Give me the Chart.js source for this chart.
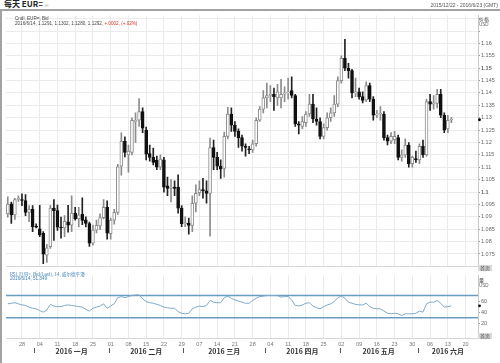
<!DOCTYPE html>
<html>
<head>
<meta charset="utf-8">
<script src="https://cdn.jsdelivr.net/npm/chart.js@4.4.1/dist/chart.umd.min.js"></script>
<style>
  body { margin: 0; background: #fff; }
  #wrap { position: relative; width: 500px; height: 363px; overflow: hidden; font-family: "Liberation Sans", Arial, sans-serif; }
  #wrap canvas { position: absolute; left: 0; }
  .txt { position: absolute; white-space: nowrap; line-height: 1; }
  .cjk { font-family: "Noto Sans CJK SC", "Liberation Sans", sans-serif; }
  .box { position: absolute; background: #d9d9d9; color: #444; font-size: 5px; line-height: 6px; text-align: center; }
</style>
</head>
<body>
<div id="wrap">
  <canvas id="priceChart" width="500" height="260" style="top:11px"></canvas>
  <canvas id="rsiChart" width="500" height="92" style="top:271px"></canvas>

  <div style="position:absolute;left:0;top:9px;width:500px;height:2px;background:#a3a3a3"></div>
  <div style="position:absolute;left:0;top:9px;width:2px;height:354px;background:#a3a3a3"></div>
  <div class="txt cjk" style="left:4px;top:0px;font-size:8px;font-weight:bold;color:#222">每天 EUR=<span style="font-size:5px;color:#888;font-weight:normal"> ≡</span></div>
  <div class="txt" style="right:2px;top:3px;font-size:5px;color:#555">2015/12/22 - 2016/6/23 (GMT)</div>

  <div class="txt" style="left:15px;top:17px;font-size:4.6px;color:#444">Cndl, EUR=, Bid</div>
  <div class="txt" style="left:15px;top:22px;font-size:4.6px;color:#444">2016/6/14, 1.1291, 1.1302, 1.1280, 1.1292, <span style="color:#e0302a">+.0002, (+.02%)</span></div>
  <div class="txt cjk" style="left:479px;top:16px;font-size:5px;color:#444">价格</div>
  <div class="txt" style="left:479px;top:23px;font-size:4.5px;color:#666">USD</div>
  <div class="box cjk" style="left:478px;top:265px;width:14px;height:6px">首页</div>

  <div class="txt cjk" style="left:10px;top:272px;font-size:4.6px;color:#3f7fb4">RSI, EUR=, Bid(Last), 14, 威尔德平滑</div>
  <div class="txt" style="left:10px;top:277px;font-size:4.6px;color:#3f7fb4">2016/6/14, 51.349</div>
  <div class="txt cjk" style="left:479px;top:277px;font-size:5px;color:#444">量</div>
  <div class="txt" style="left:479px;top:284px;font-size:4.5px;color:#666">USD</div>
  <div class="box cjk" style="left:478px;top:333px;width:14px;height:6px">首页</div>
</div>

<script>
// trading days on the axis (weekdays 2015-12-22 .. 2016-06-23)
const firstDay = new Date(Date.UTC(2015, 11, 22));
const lastDay = new Date(Date.UTC(2016, 5, 23));
const days = [];
for (let d = new Date(firstDay); d <= lastDay; d.setUTCDate(d.getUTCDate() + 1)) {
  const wd = d.getUTCDay();
  if (wd !== 0 && wd !== 6) days.push(d.toISOString().slice(0, 10));
}

// daily candles, Dec 22 .. Jun 14
const opens = [
  1.0912, 1.0953, 1.0908, 1.0970, 1.0968, 1.0966, 1.0918, 1.0930, 1.0862, 1.0852,
  1.0833, 1.0745, 1.0780, 1.0935, 1.0925, 1.0858, 1.0855, 1.0880, 1.0866, 1.0915,
  1.0892, 1.0910, 1.0888, 1.0873, 1.0794, 1.0846, 1.0863, 1.0897, 1.0938, 1.0832,
  1.0887, 1.0918, 1.1105, 1.1205, 1.1150, 1.1160, 1.1285, 1.1290, 1.1325, 1.1250,
  1.1155, 1.1140, 1.1128, 1.1100, 1.1130, 1.1025, 1.1015, 1.1020, 1.1020, 1.0935,
  1.0872, 1.0875, 1.0865, 1.0955, 1.0998, 1.1010, 1.1005, 1.0995, 1.1180, 1.1140,
  1.1105, 1.1095, 1.1225, 1.1315, 1.1270, 1.1245, 1.1220, 1.1185, 1.1175, 1.1170,
  1.1195, 1.1290, 1.1335, 1.1380, 1.1390, 1.1395, 1.1380, 1.1380, 1.1395, 1.1400,
  1.1410, 1.1390, 1.1275, 1.1265, 1.1280, 1.1315, 1.1355, 1.1295, 1.1285, 1.1225,
  1.1260, 1.1300, 1.1320, 1.1355, 1.1450, 1.1540, 1.1500, 1.1490, 1.1400, 1.1405,
  1.1385, 1.1372, 1.1430, 1.1375, 1.1310, 1.1315, 1.1315, 1.1220, 1.1205, 1.1212,
  1.1220, 1.1140, 1.1150, 1.1190, 1.1115, 1.1135, 1.1130, 1.1185, 1.1150, 1.1365,
  1.1355, 1.1358, 1.1395, 1.1310, 1.1255, 1.1291
];
const highs = [
  1.0981, 1.0960, 1.0975, 1.0985, 1.0993, 1.0990, 1.0945, 1.0945, 1.0872, 1.0946,
  1.0840, 1.0789, 1.0946, 1.0970, 1.0947, 1.0899, 1.0905, 1.0946, 1.0985, 1.0938,
  1.0938, 1.0977, 1.0900, 1.0879, 1.0867, 1.0887, 1.0912, 1.0970, 1.0965, 1.0895,
  1.0930, 1.1112, 1.1239, 1.1223, 1.1190, 1.1300, 1.1320, 1.1377, 1.1340, 1.1262,
  1.1190, 1.1178, 1.1145, 1.1150, 1.1140, 1.1060, 1.1050, 1.1045, 1.1070, 1.0945,
  1.0900, 1.0895, 1.0985, 1.1029, 1.1045, 1.1055, 1.1045, 1.1218, 1.1210, 1.1160,
  1.1130, 1.1242, 1.1342, 1.1340, 1.1285, 1.1255, 1.1230, 1.1195, 1.1185, 1.1210,
  1.1300, 1.1345, 1.1410, 1.1440, 1.1430, 1.1420, 1.1435, 1.1455, 1.1425, 1.1460,
  1.1465, 1.1395, 1.1285, 1.1305, 1.1325, 1.1395, 1.1395, 1.1340, 1.1300, 1.1275,
  1.1320, 1.1340, 1.1390, 1.1465, 1.1550, 1.1617, 1.1520, 1.1495, 1.1460, 1.1420,
  1.1405, 1.1445, 1.1440, 1.1385, 1.1330, 1.1345, 1.1325, 1.1230, 1.1240, 1.1245,
  1.1230, 1.1170, 1.1215, 1.1200, 1.1145, 1.1165, 1.1195, 1.1210, 1.1375, 1.1395,
  1.1390, 1.1415, 1.1415, 1.1320, 1.1310, 1.1302
];
const lows = [
  1.0899, 1.0873, 1.0890, 1.0962, 1.0945, 1.0905, 1.0880, 1.0840, 1.0855, 1.0820,
  1.0711, 1.0716, 1.0773, 1.0805, 1.0845, 1.0814, 1.0820, 1.0838, 1.0840, 1.0887,
  1.0859, 1.0868, 1.0859, 1.0781, 1.0786, 1.0835, 1.0848, 1.0892, 1.0810, 1.0810,
  1.0870, 1.0910, 1.1068, 1.1142, 1.1080, 1.1150, 1.1200, 1.1265, 1.1240, 1.1130,
  1.1125, 1.1110, 1.1090, 1.1090, 1.1000, 1.0985, 1.0960, 1.0985, 1.0915, 1.0860,
  1.0860, 1.0830, 1.0840, 1.0920, 1.0985, 1.0975, 1.0955, 1.0822, 1.1090, 1.1090,
  1.1055, 1.1060, 1.1215, 1.1245, 1.1225, 1.1180, 1.1165, 1.1145, 1.1155, 1.1160,
  1.1185, 1.1285, 1.1320, 1.1340, 1.1365, 1.1330, 1.1350, 1.1340, 1.1365, 1.1375,
  1.1380, 1.1265, 1.1235, 1.1255, 1.1265, 1.1305, 1.1280, 1.1270, 1.1215, 1.1215,
  1.1250, 1.1285, 1.1305, 1.1345, 1.1440, 1.1490, 1.1460, 1.1380, 1.1385, 1.1375,
  1.1360, 1.1365, 1.1365, 1.1290, 1.1300, 1.1290, 1.1210, 1.1190, 1.1195, 1.1195,
  1.1130, 1.1125, 1.1140, 1.1100, 1.1100, 1.1120, 1.1115, 1.1140, 1.1145, 1.1330,
  1.1335, 1.1340, 1.1300, 1.1240, 1.1240, 1.1280
];
const closes = [
  1.0951, 1.0908, 1.0970, 1.0975, 1.0966, 1.0918, 1.0930, 1.0860, 1.0858, 1.0827,
  1.0749, 1.0775, 1.0935, 1.0925, 1.0858, 1.0855, 1.0882, 1.0866, 1.0915, 1.0892,
  1.0908, 1.0886, 1.0873, 1.0794, 1.0847, 1.0866, 1.0897, 1.0938, 1.0834, 1.0887,
  1.0918, 1.1102, 1.1205, 1.1160, 1.1165, 1.1290, 1.1290, 1.1325, 1.1258, 1.1153,
  1.1140, 1.1120, 1.1100, 1.1133, 1.1020, 1.1015, 1.1020, 1.1015, 1.0935, 1.0872,
  1.0875, 1.0865, 1.0955, 1.0995, 1.1010, 1.1005, 1.0995, 1.1180, 1.1140, 1.1105,
  1.1092, 1.1225, 1.1315, 1.1270, 1.1245, 1.1220, 1.1185, 1.1180, 1.1170, 1.1195,
  1.1290, 1.1335, 1.1380, 1.1390, 1.1395, 1.1385, 1.1405, 1.1395, 1.1400, 1.1405,
  1.1390, 1.1275, 1.1270, 1.1285, 1.1315, 1.1355, 1.1295, 1.1285, 1.1225, 1.1260,
  1.1300, 1.1320, 1.1355, 1.1450, 1.1540, 1.1500, 1.1490, 1.1400, 1.1405, 1.1385,
  1.1370, 1.1430, 1.1375, 1.1310, 1.1315, 1.1315, 1.1220, 1.1205, 1.1225, 1.1225,
  1.1140, 1.1150, 1.1190, 1.1115, 1.1140, 1.1130, 1.1185, 1.1150, 1.1365, 1.1355,
  1.1360, 1.1395, 1.1310, 1.1250, 1.1290, 1.1292
];

// RSI(14), same days
const rsi = [
  55, 56, 57, 55, 53, 52, 49, 47, 46, 43,
  40, 44, 54, 51, 50, 50, 52, 53, 52, 51,
  50, 49, 45, 42, 47, 49, 51, 55, 47, 51,
  55, 66, 68, 66, 68, 70, 71, 71, 64, 59,
  57, 56, 54, 52, 49, 48, 47, 47, 41, 38,
  37, 38, 46, 49, 51, 50, 52, 61, 58, 57,
  57, 66, 69, 65, 62, 60, 58, 56, 56, 61,
  65, 68, 69, 70, 70, 70, 70, 67, 68, 68,
  62, 52, 51, 53, 56, 57, 51, 48, 46, 50,
  53, 55, 59, 66, 69, 65, 58, 56, 54, 53,
  53, 56, 50, 47, 46, 46, 42, 38, 37, 38,
  37, 34, 37, 37, 37, 38, 42, 40, 55, 58,
  58, 61, 56, 49, 50, 51.349
];
const rsiLevels = [70, 30];

const priceTicks = [1.075, 1.08, 1.085, 1.09, 1.095, 1.1, 1.105, 1.11, 1.115, 1.12,
  1.125, 1.13, 1.135, 1.14, 1.145, 1.15, 1.155, 1.16, 1.165, 1.17];
const rsiTicks = [20, 40, 60];

const monthNames = ['2016 一月', '2016 二月', '2016 三月', '2016 四月', '2016 五月', '2016 六月'];
const monthStarts = ['2016-01-01', '2016-02-01', '2016-03-01', '2016-04-01', '2016-05-02', '2016-06-01'];

const isMonday = (i) => i < days.length && new Date(days[i] + 'T00:00:00Z').getUTCDay() === 1;
const up = opens.map((o, i) => closes[i] >= o);

const axisFont = { family: '"Liberation Sans", Arial, sans-serif', size: 5.5 };

const lastDot = (values) => ({
  id: 'lastDot',
  afterDraw(chart) {
    const y = chart.scales.y.getPixelForValue(values[values.length - 1]);
    const c = chart.ctx;
    c.save();
    c.fillStyle = '#000';
    c.beginPath();
    c.arc(chart.chartArea.right + 1.5, y, 1.4, 0, Math.PI * 2);
    c.fill();
    c.restore();
  }
});

new Chart(document.getElementById('priceChart'), {
  type: 'bar',
  data: {
    labels: days,
    datasets: [
      {
        label: 'body',
        data: opens.map((o, i) => [o, closes[i]]),
        backgroundColor: up.map(u => u ? '#ffffff' : '#111111'),
        borderColor: up.map(u => u ? '#8c8c8c' : '#111111'),
        borderWidth: 1,
        borderSkipped: false,
        barThickness: 3,
        minBarLength: 1,
        grouped: false,
        order: 1,
      },
      {
        label: 'wick',
        data: lows.map((l, i) => [l, highs[i]]),
        backgroundColor: up.map(u => u ? '#8c8c8c' : '#222222'),
        barThickness: 1,
        grouped: false,
        order: 2,
      },
    ],
  },
  options: {
    responsive: false,
    animation: false,
    layout: { padding: { left: 6, top: 1, right: 0, bottom: 0 } },
    plugins: { legend: { display: false }, tooltip: { enabled: false } },
    scales: {
      x: {
        offset: true,
        grid: { offset: false, drawTicks: false, color: (ctx) => isMonday(ctx.index) ? '#ebebeb' : 'rgba(0,0,0,0)' },
        border: { display: true, color: '#d6d6d6' },
        ticks: { display: false, autoSkip: false },
        afterFit: (s) => { s.height = 0; },
      },
      y: {
        position: 'right',
        min: 1.06987,
        max: 1.17136,
        afterBuildTicks: (s) => { s.ticks = priceTicks.map(v => ({ value: v })); },
        grid: { color: '#ebebeb', tickLength: 2, tickColor: '#999' },
        border: { display: true, color: '#c8c8c8' },
        ticks: {
          padding: 1,
          color: '#666',
          callback: (v) => v > 1.1601 ? '' : String(Number(v.toFixed(3))),
          font: (ctx) => {
            const v = ctx.tick ? ctx.tick.value : 0;
            return { ...axisFont, weight: Math.round(v * 1000) % 50 === 0 && v ? 'bold' : 'normal' };
          },
        },
        afterFit: (s) => { s.width = 22; },
      },
    },
  },
  plugins: [lastDot(closes)],
});

const rsiExtras = {
  id: 'rsiExtras',
  beforeDatasetsDraw(chart) {
    const { ctx, chartArea, scales } = chart;
    ctx.save();
    ctx.strokeStyle = '#6a9cc2';
    ctx.lineWidth = 1.5;
    rsiLevels.forEach(v => {
      const y = scales.y.getPixelForValue(v);
      ctx.beginPath();
      ctx.moveTo(chartArea.left, y);
      ctx.lineTo(chartArea.right, y);
      ctx.stroke();
    });
    ctx.restore();
  },
  afterDraw(chart) {
    const { ctx, chartArea, scales } = chart;
    const x = scales.x;
    const half = (x.getPixelForValue(1) - x.getPixelForValue(0)) / 2;
    ctx.save();
    ctx.fillStyle = '#333';
    ctx.strokeStyle = '#555';
    ctx.lineWidth = 1;
    ctx.font = 'bold 7px "Noto Sans CJK SC", "Liberation Sans", sans-serif';
    ctx.textAlign = 'center';
    ctx.textBaseline = 'middle';
    monthNames.forEach((name, m) => {
      const first = days.indexOf(monthStarts[m]);
      const last = m + 1 < monthStarts.length ? days.indexOf(monthStarts[m + 1]) - 1 : days.length - 1;
      const sep = Math.round(x.getPixelForValue(first) - half) + 0.5;
      ctx.beginPath();
      ctx.moveTo(sep, chartArea.bottom + 10);
      ctx.lineTo(sep, chartArea.bottom + 15);
      ctx.stroke();
      ctx.fillText(name, (x.getPixelForValue(first) + x.getPixelForValue(last)) / 2, chartArea.bottom + 13);
    });
    ctx.restore();
  },
};

new Chart(document.getElementById('rsiChart'), {
  type: 'line',
  data: {
    labels: days,
    datasets: [{
      data: rsi,
      borderColor: '#7eaac9',
      borderWidth: 1,
      pointRadius: 0,
      tension: 0,
    }],
  },
  options: {
    responsive: false,
    animation: false,
    layout: { padding: { left: 6, top: 1, right: 0, bottom: 0 } },
    plugins: { legend: { display: false }, tooltip: { enabled: false } },
    scales: {
      x: {
        offset: true,
        grid: { offset: false, drawTicks: false, color: (ctx) => isMonday(ctx.index) ? '#ebebeb' : 'rgba(0,0,0,0)' },
        border: { display: true, color: '#d6d6d6' },
        ticks: {
          autoSkip: false,
          maxRotation: 0,
          minRotation: 0,
          padding: 3,
          color: '#777',
          font: axisFont,
          callback: (v, i) => isMonday(i) ? days[i].slice(8) : '',
        },
        afterFit: (s) => { s.height = 25; },
      },
      y: {
        position: 'right',
        min: -6.5,
        max: 106.3,
        afterBuildTicks: (s) => { s.ticks = rsiTicks.map(v => ({ value: v })); },
        grid: { drawOnChartArea: false, tickLength: 2, tickColor: '#999' },
        border: { display: true, color: '#c8c8c8' },
        ticks: { padding: 1, color: '#666', font: axisFont },
        afterFit: (s) => { s.width = 22; },
      },
    },
  },
  plugins: [rsiExtras, lastDot(rsi)],
});
</script>
</body>
</html>
